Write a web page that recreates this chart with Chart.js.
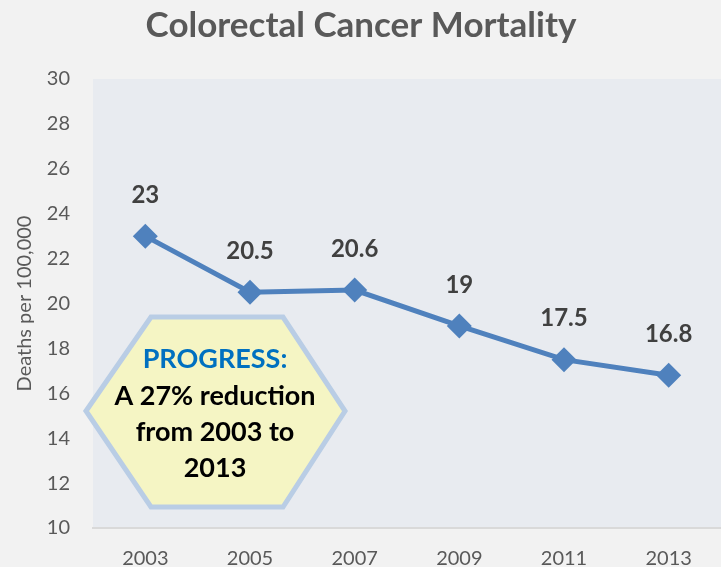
<!DOCTYPE html>
<html>
<head>
<meta charset="utf-8">
<script src="https://cdn.jsdelivr.net/npm/chart.js@4"></script>
<style>
  html, body { margin: 0; padding: 0; background: #F2F2F2; }
  #wrap { width: 721px; height: 567px; }
</style>
</head>
<body>
<div id="wrap"><canvas id="myChart" width="721" height="567"></canvas></div>
<script>
var years = ['2003', '2005', '2007', '2009', '2011', '2013']
var deaths = [23, 20.5, 20.6, 19, 17.5, 16.8]
var yMin = 10
var yMax = 30
var yStep = 2
var titleText = 'Colorectal Cancer Mortality'
var yTitle = 'Deaths per 100,000'
var boxLines = ['A 27% reduction', 'from 2003 to', '2013']

var FONT = 'Lato, "Open Sans", sans-serif'

// fond gris clair de la zone de tracé
const fondo = {
    id: 'fondo',
    beforeDraw(chart) {
        const ctx = chart.ctx
        const a = chart.chartArea
        ctx.save()
        ctx.fillStyle = '#F2F2F2'
        ctx.fillRect(0, 0, chart.width, chart.height)
        ctx.fillStyle = '#E8EBF0'
        ctx.fillRect(a.left, a.top, a.right - a.left, a.bottom - a.top)
        ctx.restore()
    }
}

// titre + étiquettes + hexagone
const extras = {
    id: 'extras',
    afterDatasetsDraw(chart) {
        const ctx = chart.ctx
        const meta = chart.getDatasetMeta(0)
        ctx.save()
        ctx.fillStyle = '#404040'
        ctx.font = 'bold 24px ' + FONT
        ctx.textAlign = 'center'
        ctx.textBaseline = 'middle'
        meta.data.forEach(function (p, i) {
            ctx.fillText(String(deaths[i]), p.x, p.y - 41)
        })
        ctx.restore()
    },
    afterDraw(chart) {
        const ctx = chart.ctx
        ctx.save()
        ctx.fillStyle = '#595959'
        ctx.font = 'bold 35px ' + FONT
        ctx.textAlign = 'center'
        ctx.textBaseline = 'middle'
        ctx.fillText(titleText, 361, 26)

        // hexagone
        ctx.beginPath()
        ctx.moveTo(86, 411)
        ctx.lineTo(151, 317)
        ctx.lineTo(283, 317)
        ctx.lineTo(345, 411)
        ctx.lineTo(283, 507)
        ctx.lineTo(151, 507)
        ctx.closePath()
        ctx.fillStyle = '#F5F5C4'
        ctx.fill()
        ctx.lineWidth = 5
        ctx.strokeStyle = '#B9CDE5'
        ctx.stroke()

        ctx.fillStyle = '#0070C0'
        ctx.font = 'bold 27px ' + FONT
        ctx.fillText('PROGRESS:', 215, 359)
        ctx.fillStyle = '#000000'
        ctx.font = 'bold 27px ' + FONT
        boxLines.forEach(function (t, i) {
            ctx.fillText(t, 215, 396 + i * 36)
        })
        ctx.restore()
    }
}

const config = {
    type: 'line',
    data: {
        labels: years,
        datasets: [{
            label: 'Mortalidad',
            data: deaths,
            borderColor: '#4F81BD',
            backgroundColor: '#4F81BD',
            borderWidth: 5,
            pointStyle: 'rectRot',
            pointRadius: 12.5,
            pointHoverRadius: 12.5,
            pointBorderWidth: 0,
            tension: 0
        }]
    },
    options: {
        responsive: false,
        animation: false,
        events: [],
        layout: { autoPadding: false, padding: { top: 79, right: 0, left: 0, bottom: 0 } },
        plugins: {
            legend: { display: false },
            title: { display: false },
            tooltip: { enabled: false }
        },
        scales: {
            x: {
                offset: true,
                grid: { display: false, drawTicks: false },
                border: { display: true, color: '#D9D9D9', width: 2 },
                ticks: { color: '#595959', font: { family: FONT, size: 20 }, padding: 19 },
                afterFit: function (s) { s.height = 39; s.paddingLeft = 0; s.paddingRight = 0 }
            },
            y: {
                min: yMin,
                max: yMax,
                ticks: { stepSize: yStep, color: '#595959', font: { family: FONT, size: 20 }, padding: 23 },
                grid: { display: false, drawTicks: false },
                border: { display: false },
                title: { display: true, text: yTitle, color: '#595959', font: { family: FONT, size: 20 }, padding: { top: 13, bottom: 0 } },
                afterFit: function (s) { s.width = 93; s.paddingTop = 0; s.paddingBottom = 0 }
            }
        }
    },
    plugins: [fondo, extras]
}

const myChart = new Chart(document.getElementById('myChart'), config)
</script>
</body>
</html>
